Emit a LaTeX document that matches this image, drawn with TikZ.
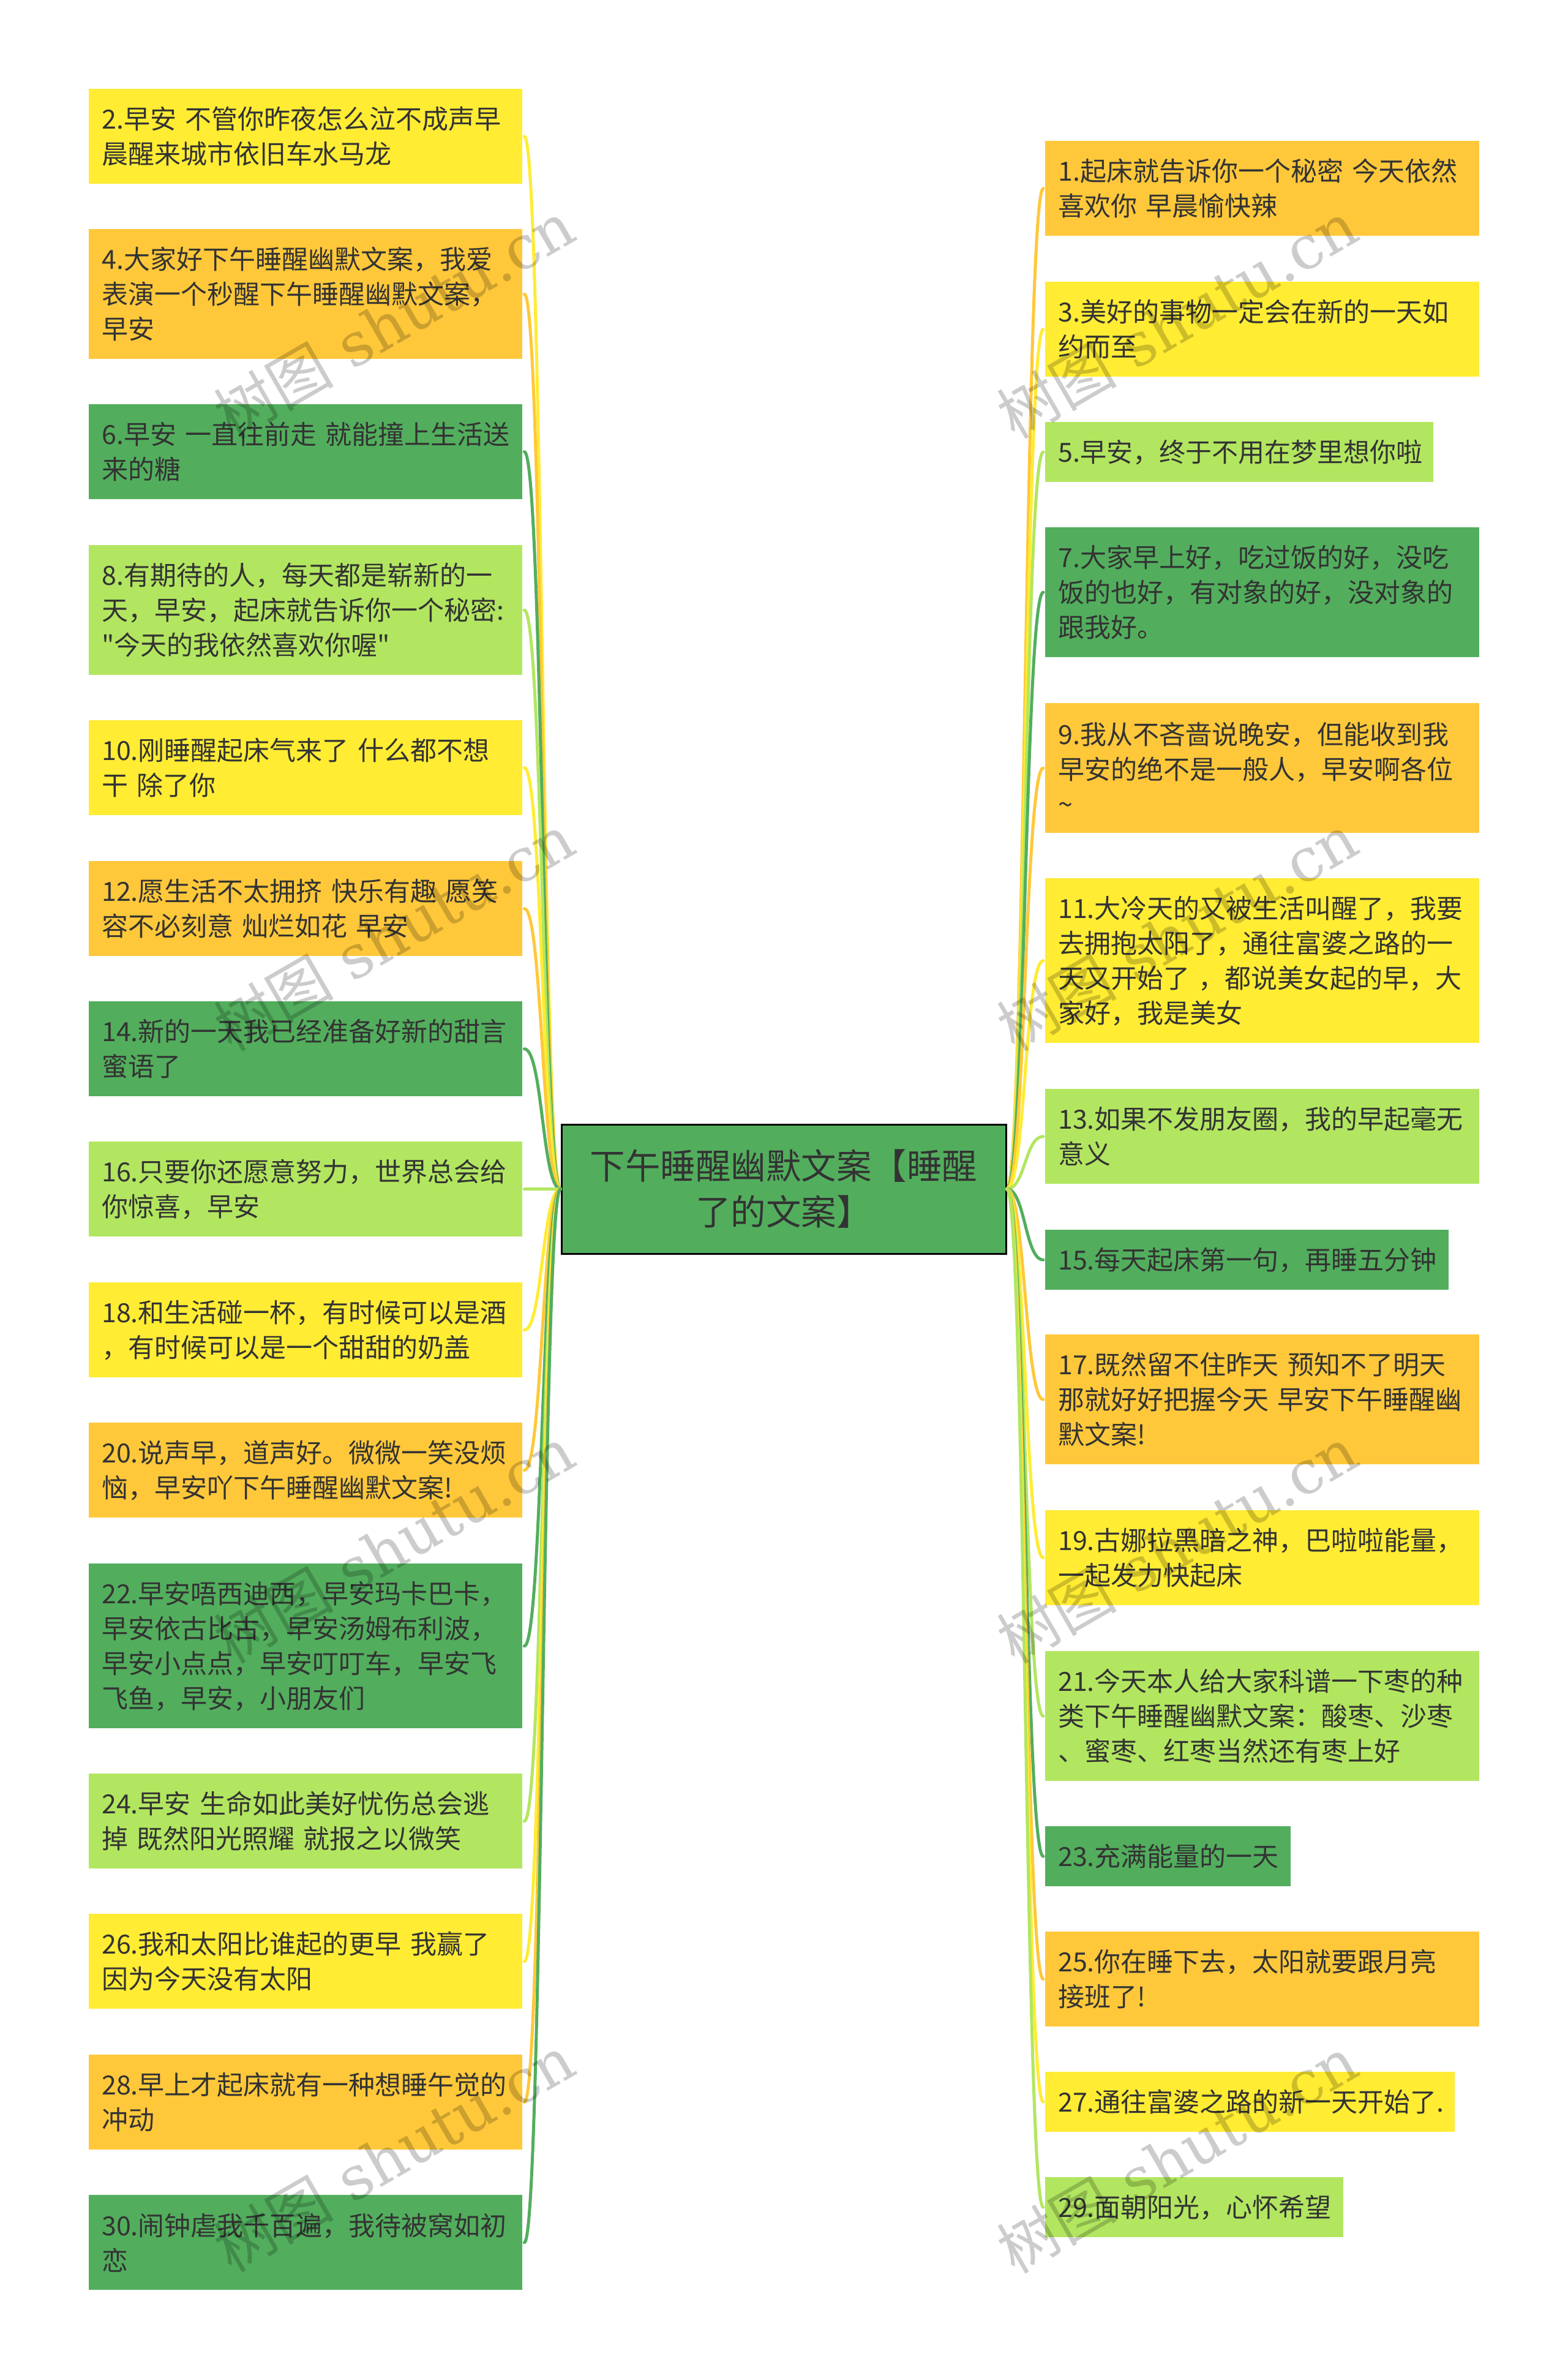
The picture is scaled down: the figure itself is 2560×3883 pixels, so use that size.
\documentclass[tikz,border=0pt]{standalone}
\usepackage{fontspec}
\newfontfamily\cjk{Noto Sans CJK SC}
\newfontfamily\wmserif{DejaVu Serif}
\definecolor{cY}{HTML}{FFEC33}
\definecolor{cO}{HTML}{FFC83A}
\definecolor{cG}{HTML}{52AE5D}
\definecolor{cL}{HTML}{B2E660}
\definecolor{ink}{HTML}{333333}
\tikzset{
  leaf/.style={anchor=north west,inner xsep=21pt,inner ysep=0pt,align=left,text=ink,
    font=\fontsize{43}{57}\selectfont\cjk,draw=none},
  rootbox/.style={draw=black,line width=3pt,fill=cG,text=ink,align=center,inner sep=0pt,
    font=\fontsize{57.5}{75}\selectfont\cjk},
  link/.style={line width=5pt,line cap=round},
  wm/.style={rotate=30,text=black,text opacity=0.2,font=\fontsize{98}{98}\selectfont\wmserif}
}
% \lf{name}{x}{y}{width}{height}{colour}{text}
\newcommand{\lf}[7]{\node[leaf,fill=#6,text width=#4pt-42pt,minimum height=#5pt] (#1) at (#2,#3) {#7};}
\newcommand{\lk}[2]{\draw[link,#2] ([xshift=3pt]n#1.east) .. controls ([xshift=33pt]n#1.east) and ([xshift=-30pt]root.west) .. (root.west);}
\newcommand{\rk}[2]{\draw[link,#2] (root.east) .. controls ([xshift=30pt]root.east) and ([xshift=-33pt]n#1.west) .. ([xshift=-3pt]n#1.west);}
\begin{document}
\begin{tikzpicture}[x=1pt,y=-1pt]
\useasboundingbox[fill=white] (0,0) rectangle (2560,3883);
\node[rootbox,minimum width=726pt,minimum height=211pt] (root) at (1280,1941.5) {下午睡醒幽默文案【睡醒\\了的文案】};
% left
\lf{n2}{145}{145}{708}{155}{cY}{2.早安 不管你昨夜怎么泣不成声早\\晨醒来城市依旧车水马龙}
\lf{n4}{145}{374}{708}{212}{cO}{4.大家好下午睡醒幽默文案，我爱\\表演一个秒醒下午睡醒幽默文案，\\早安}
\lf{n6}{145}{660}{708}{155}{cG}{\mbox{6.早安 一直往前走 就能撞上生活送}\\来的糖}
\lf{n8}{145}{890}{708}{212}{cL}{8.有期待的人，每天都是崭新的一\\天，早安，起床就告诉你一个秘密:\\"今天的我依然喜欢你喔"}
\lf{n10}{145}{1176}{708}{155}{cY}{10.刚睡醒起床气来了 什么都不想\\干 除了你}
\lf{n12}{145}{1406}{708}{155}{cO}{12.愿生活不太拥挤 快乐有趣 愿笑\\容不必刻意 灿烂如花 早安}
\lf{n14}{145}{1635}{708}{155}{cG}{14.新的一天我已经准备好新的甜言\\蜜语了}
\lf{n16}{145}{1864}{708}{155}{cL}{16.只要你还愿意努力，世界总会给\\你惊喜，早安}
\lf{n18}{145}{2094}{708}{155}{cY}{18.和生活碰一杯，有时候可以是酒\\，有时候可以是一个甜甜的奶盖}
\lf{n20}{145}{2323}{708}{155}{cO}{20.说声早，道声好。微微一笑没烦\\恼，早安吖下午睡醒幽默文案!}
\lf{n22}{145}{2553}{708}{269}{cG}{22.早安唔西迪西，早安玛卡巴卡，\\早安依古比古，早安汤姆布利波，\\早安小点点，早安叮叮车，早安飞\\飞鱼，早安，小朋友们}
\lf{n24}{145}{2896}{708}{155}{cL}{24.早安 生命如此美好忧伤总会逃\\掉 既然阳光照耀 就报之以微笑}
\lf{n26}{145}{3125}{708}{155}{cY}{26.我和太阳比谁起的更早 我赢了\\因为今天没有太阳}
\lf{n28}{145}{3355}{708}{155}{cO}{28.早上才起床就有一种想睡午觉的\\冲动}
\lf{n30}{145}{3584}{708}{155}{cG}{30.闹钟虐我千百遍，我待被窝如初\\恋}
% right
\lf{n1}{1707}{230}{709}{155}{cO}{1.起床就告诉你一个秘密 今天依然\\喜欢你 早晨愉快辣}
\lf{n3}{1707}{460}{709}{155}{cY}{3.美好的事物一定会在新的一天如\\约而至}
\lf{n5}{1707}{689}{634}{98}{cL}{5.早安，终于不用在梦里想你啦}
\lf{n7}{1707}{861}{709}{212}{cG}{7.大家早上好，吃过饭的好，没吃\\饭的也好，有对象的好，没对象的\\跟我好。}
\lf{n9}{1707}{1148}{709}{212}{cO}{9.我从不吝啬说晚安，但能收到我\\早安的绝不是一般人，早安啊各位\\\textasciitilde}
\lf{n11}{1707}{1434}{709}{269}{cY}{11.大冷天的又被生活叫醒了，我要\\去拥抱太阳了，通往富婆之路的一\\天又开始了 ，都说美女起的早，大\\家好，我是美女}
\lf{n13}{1707}{1778}{709}{155}{cL}{13.如果不发朋友圈，我的早起毫无\\意义}
\lf{n15}{1707}{2008}{659}{98}{cG}{15.每天起床第一句，再睡五分钟}
\lf{n17}{1707}{2179}{709}{212}{cO}{17.既然留不住昨天 预知不了明天\\那就好好把握今天 早安下午睡醒幽\\默文案!}
\lf{n19}{1707}{2466}{709}{155}{cY}{19.古娜拉黑暗之神，巴啦啦能量，\\一起发力快起床}
\lf{n21}{1707}{2696}{709}{212}{cL}{21.今天本人给大家科谱一下枣的种\\类下午睡醒幽默文案：酸枣、沙枣\\、蜜枣、红枣当然还有枣上好}
\lf{n23}{1707}{2982}{401}{98}{cG}{23.充满能量的一天}
\lf{n25}{1707}{3154}{709}{155}{cO}{25.你在睡下去，太阳就要跟月亮\\接班了!}
\lf{n27}{1707}{3383}{669}{98}{cY}{27.通往富婆之路的新一天开始了.}
\lf{n29}{1707}{3555}{487}{98}{cL}{29.面朝阳光，心怀希望}
% connectors
\lk{2}{cY}\lk{4}{cO}\lk{6}{cG}\lk{8}{cL}\lk{10}{cY}\lk{12}{cO}\lk{14}{cG}\lk{16}{cL}
\lk{18}{cY}\lk{20}{cO}\lk{22}{cG}\lk{24}{cL}\lk{26}{cY}\lk{28}{cO}\lk{30}{cG}
\rk{1}{cO}\rk{3}{cY}\rk{5}{cL}\rk{7}{cG}\rk{9}{cO}\rk{11}{cY}\rk{13}{cL}\rk{15}{cG}
\rk{17}{cO}\rk{19}{cY}\rk{21}{cL}\rk{23}{cG}\rk{25}{cO}\rk{27}{cY}\rk{29}{cL}
% watermarks
\foreach \wx/\wy [count=\wi] in {644/522,644/1522,644/2522,644/3516,1923/522,1923/1522,1923/2522,1923/3518}{
  \node[wm] (wm\wi) at (\wx,\wy) {{\cjk 树图} shutu.cn};
}
\end{tikzpicture}
\end{document}
